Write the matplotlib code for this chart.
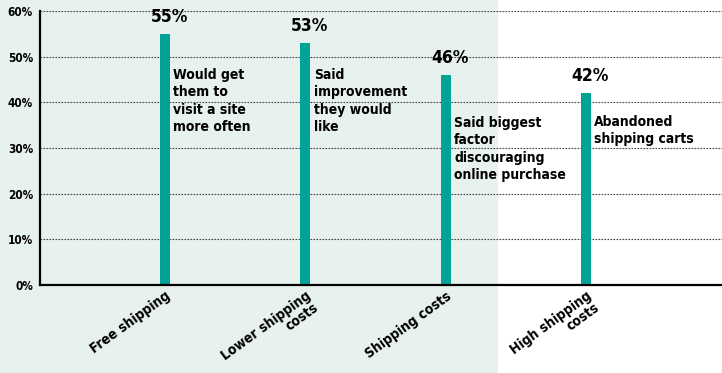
import matplotlib
matplotlib.use("Agg")
import matplotlib.pyplot as plt
from matplotlib import font_manager
from matplotlib.patches import Rectangle

# Daten
categories = ["Free shipping", "Lower shipping\ncosts", "Shipping costs", "High shipping\ncosts"]
values = [55, 53, 46, 42]
notes = [
    "Would get\nthem to\nvisit a site\nmore often",
    "Said\nimprovement\nthey would\nlike",
    "Said biggest\nfactor\ndiscouraging\nonline purchase",
    "Abandoned\nshipping carts",
]
note_tops = [47.5, 47.5, 37, 37.3]
yticks = [0, 10, 20, 30, 40, 50, 60]

BAR_COLOR = "#00a396"
BG_GREEN = "#e7f1ee"


def _weight(f):
    w = f.weight
    if isinstance(w, str):
        w = {"bold": 700, "semibold": 600, "normal": 400, "regular": 400,
             "medium": 500, "heavy": 800, "black": 900, "light": 300}.get(w, 400)
    return w


# Schmale fette Schrift suchen (Zeitungs-Look), sonst Fallback
cands = [f for f in font_manager.fontManager.ttflist
         if ("Condensed" in f.name or "Narrow" in f.name or "condensed" in str(f.stretch))
         and f.style == "normal" and _weight(f) >= 600]
cands.sort(key=lambda f: abs(_weight(f) - 700))
if cands:
    FP = font_manager.FontProperties(fname=cands[0].fname)
else:
    FP = font_manager.FontProperties(family="DejaVu Sans", weight="bold")


def fp(size):
    p = FP.copy()
    p.set_size(size)
    return p


fig = plt.figure(figsize=(7.22, 3.73), dpi=100)
fig.patches.append(Rectangle((0, 0), 498 / 722, 1, transform=fig.transFigure,
                             facecolor=BG_GREEN, edgecolor="none", zorder=-5))

ax = fig.add_axes([40 / 722, 88 / 373, 1 - 40 / 722, 274 / 373])
ax.patch.set_alpha(0)

x = list(range(len(categories)))
ax.bar(x, values, width=0.072, color=BAR_COLOR, zorder=3)

ax.set_xlim(-0.891, 3.970)
ax.set_ylim(0, 60)
ax.set_yticks(yticks)
ax.set_yticklabels([f"{t}%" for t in yticks], fontproperties=fp(8.5))
ax.tick_params(axis="y", length=0, pad=5)
ax.tick_params(axis="x", length=0, pad=3)
ax.grid(True, axis="y", linestyle=(0, (1.5, 1.2)), color="#444444", linewidth=0.8, zorder=1)

for s in ["top", "right"]:
    ax.spines[s].set_visible(False)
for s in ["left", "bottom"]:
    ax.spines[s].set_linewidth(1.6)
    ax.spines[s].set_color("black")
    ax.spines[s].set_zorder(4)

ax.set_xticks(x)
ax.set_xticklabels(categories, rotation=36, ha="right", va="top",
                   rotation_mode="anchor", multialignment="right",
                   fontproperties=fp(10), linespacing=0.95)

for i, v in enumerate(values):
    ax.text(i + 0.03, v + 1.8, f"{v}%", ha="center", va="bottom",
            fontproperties=fp(12.5))
    ax.text(i + 0.06, note_tops[i], notes[i], ha="left", va="top",
            fontproperties=fp(10), linespacing=1.3)

fig.savefig("out.png", dpi=100)
